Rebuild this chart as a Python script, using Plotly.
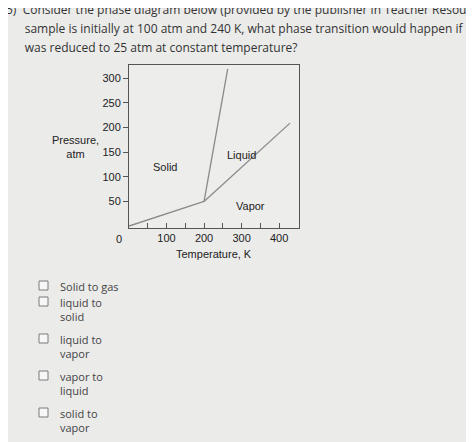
import plotly.graph_objects as go

# page body has an 8px margin, so the figure sits 8px in from the window corner
OFF = 8
W, H = 474 - OFF, 442 - OFF

# phase boundaries (T in K, P in atm)
sublim_T = [0, 200]
sublim_P = [0, 50]
melt_T = [200, 263]
melt_P = [50, 319]
vap_T = [200, 429]
vap_P = [50, 209]

x_ticks = [50, 100, 150, 200, 250, 300, 350, 400]
x_labels = ["", "100", "", "200", "", "300", "", "400"]
y_ticks = [50, 100, 150, 200, 250, 300]

question = [
    "5)  Consider the phase diagram below (provided by the publisher in Teacher Resources).  If a",
    "      sample is initially at 100 atm and 240 K, what phase transition would happen if the pressure",
    "      was reduced to 25 atm at constant temperature?",
]
choices = [("Solid to gas", 286), ("liquid to<br>solid", 316), ("liquid to<br>vapor", 353),
           ("vapor to<br>liquid", 390), ("solid to<br>vapor", 427)]

FONT = "Open Sans, Arial, sans-serif"
LINE = "#8a8a8a"


def px(x):
    return (x - OFF) / W


def py(y):
    return 1 - (y - OFF) / H


fig = go.Figure()
for t, p in [(sublim_T, sublim_P), (melt_T, melt_P), (vap_T, vap_P)]:
    fig.add_trace(go.Scatter(x=t, y=p, mode="lines", line=dict(color=LINE, width=1.3),
                             hoverinfo="skip", showlegend=False))

for txt, x, y in [("Solid", 95, 120), ("Liquid", 300, 145), ("Vapor", 325, 40)]:
    fig.add_annotation(x=x, y=y, text=txt, showarrow=False, xref="x", yref="y",
                       font=dict(family="Arial", size=11, color="#222"))

ann = [
    dict(x=px(119), y=py(239), text="0"),
    dict(x=px(75), y=py(147), text="Pressure,<br>atm"),
    dict(x=px(214), y=py(254), text="Temperature, K"),
]
for a in ann:
    fig.add_annotation(xref="paper", yref="paper", showarrow=False,
                       xanchor="center", yanchor="middle",
                       font=dict(family="Arial", size=11, color="#222"), **a)

for i, line in enumerate(question):
    fig.add_annotation(x=px(4), y=py(10 + 18.5 * i), xref="paper", yref="paper", text=line,
                       showarrow=False, xanchor="left", yanchor="middle",
                       font=dict(family=FONT, size=12, color="#333"))

for txt, y in choices:
    n = txt.count("<br>")
    yc = y - 7 * n
    fig.add_annotation(x=px(58), y=py(yc), xref="paper", yref="paper", text=txt,
                       showarrow=False, xanchor="left", yanchor="middle", align="left",
                       font=dict(family=FONT, size=11, color="#444"))
    top = y - 14 * n - 5
    fig.add_shape(type="rect", xref="paper", yref="paper",
                  x0=px(39), x1=px(48), y0=py(top), y1=py(top + 9),
                  line=dict(color="#7a7a7a", width=1), fillcolor="#f7f7f7")

fig.update_xaxes(range=[0, 453], tickvals=x_ticks, ticktext=x_labels, ticks="inside",
                 ticklen=5, tickcolor="#555", showgrid=False, zeroline=False,
                 showline=True, linecolor="#555", mirror=True,
                 tickfont=dict(family="Arial", size=11, color="#222"),
                 domain=[px(129), px(299)])
fig.update_yaxes(range=[-4, 327], tickvals=y_ticks, ticks="outside", ticklen=5,
                 tickcolor="#555", showgrid=False, zeroline=False,
                 showline=True, linecolor="#555", mirror=True,
                 tickfont=dict(family="Arial", size=11, color="#222"),
                 domain=[py(228), py(65)])
fig.update_layout(width=W, height=H, margin=dict(l=0, r=0, t=0, b=0),
                  paper_bgcolor="#ebebea", plot_bgcolor="#ededec")

fig.write_html("out.html")
